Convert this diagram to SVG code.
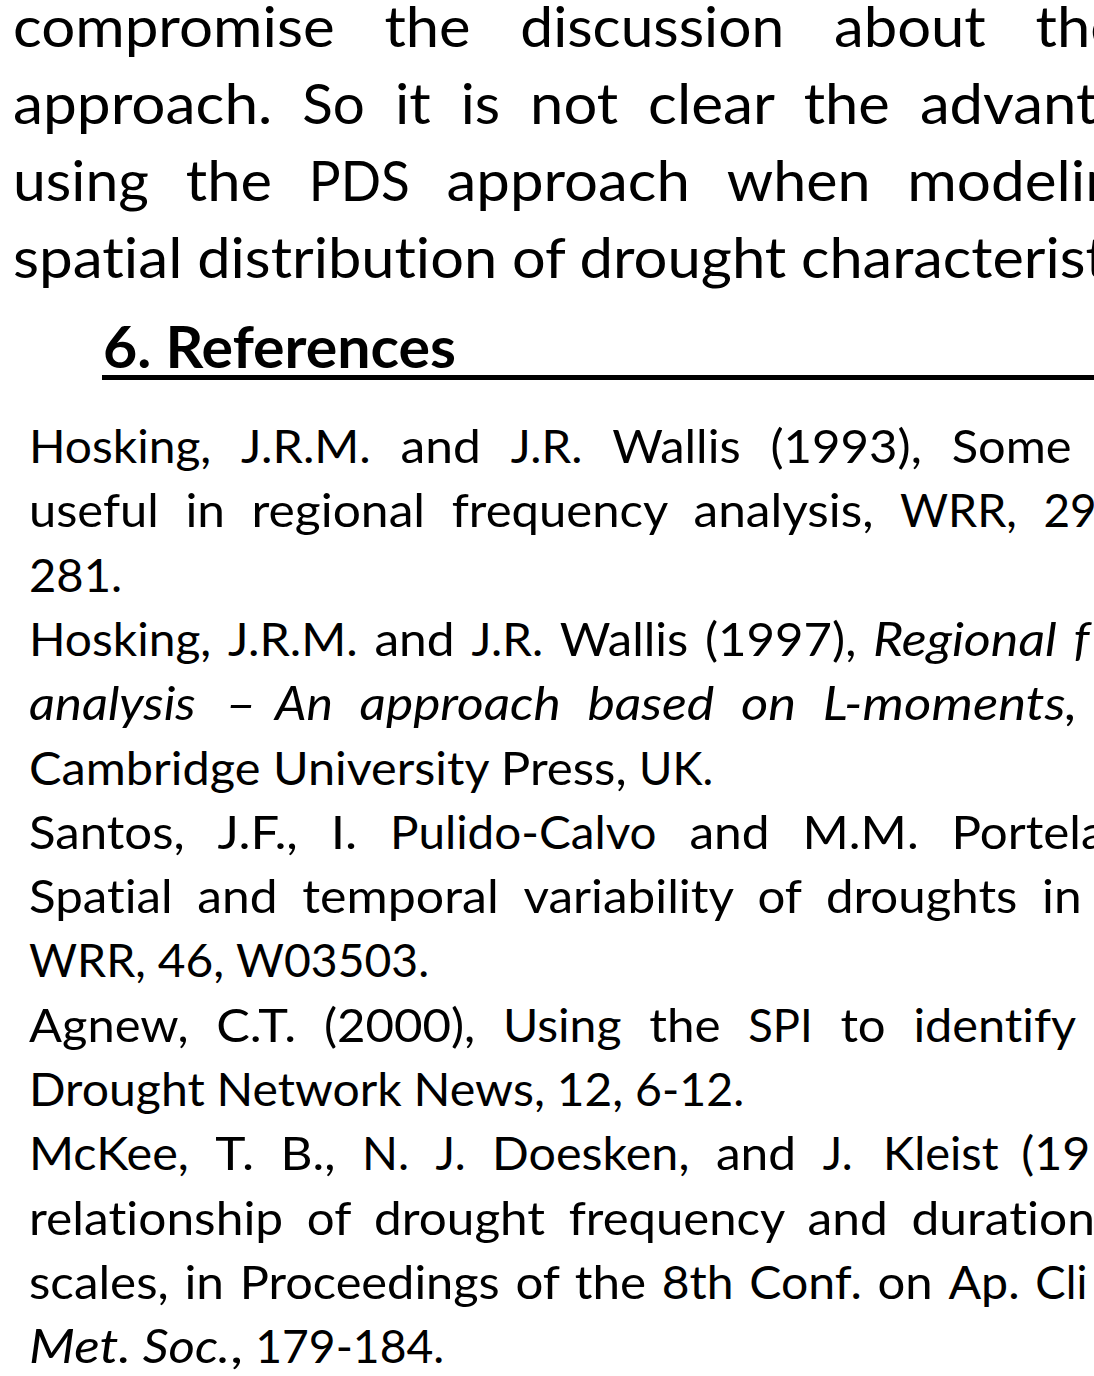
<svg xmlns="http://www.w3.org/2000/svg" width="1094" height="1376" viewBox="0 0 1094 1376">
  <style>
    text { font-family: Lato, "Open Sans", "Liberation Sans", sans-serif; fill: #000; font-variant-ligatures: none; font-feature-settings: "liga" 0, "clig" 0; }
    .body { font-size: 57px; }
    .ref { font-size: 47.3px; }
    .head { font-size: 56.7px; font-weight: bold; }
    .it { font-style: italic; }
  </style>
  <rect x="0" y="0" width="1094" height="1376" fill="#fff"/>

  <!-- closing paragraph of the previous section (justified) -->
  <g id="conclusion-text">
    <text class="body" y="47"><tspan x="13" textLength="321.7" lengthAdjust="spacingAndGlyphs">compromise</tspan> <tspan x="384.4" textLength="86.2" lengthAdjust="spacingAndGlyphs">the</tspan> <tspan x="520.3" textLength="263.9" lengthAdjust="spacingAndGlyphs">discussion</tspan> <tspan x="834" textLength="151.8" lengthAdjust="spacingAndGlyphs">about</tspan> <tspan x="1035.5" textLength="86.2" lengthAdjust="spacingAndGlyphs">the</tspan></text>
    <text class="body" y="124"><tspan x="13" textLength="259.3" lengthAdjust="spacingAndGlyphs">approach.</tspan> <tspan x="302.3" textLength="62.6" lengthAdjust="spacingAndGlyphs">So</tspan> <tspan x="394.9" textLength="35.8" lengthAdjust="spacingAndGlyphs">it</tspan> <tspan x="460.7" textLength="39.4" lengthAdjust="spacingAndGlyphs">is</tspan> <tspan x="530.1" textLength="88" lengthAdjust="spacingAndGlyphs">not</tspan> <tspan x="648.1" textLength="125.6" lengthAdjust="spacingAndGlyphs">clear</tspan> <tspan x="803.7" textLength="86.2" lengthAdjust="spacingAndGlyphs">the</tspan> <tspan x="919.9" textLength="177.5" lengthAdjust="spacingAndGlyphs">advant</tspan></text>
    <text class="body" y="201"><tspan x="13" textLength="136" lengthAdjust="spacingAndGlyphs">using</tspan> <tspan x="185.8" textLength="86.2" lengthAdjust="spacingAndGlyphs">the</tspan> <tspan x="308.8" textLength="101" lengthAdjust="spacingAndGlyphs">PDS</tspan> <tspan x="446.6" textLength="243.3" lengthAdjust="spacingAndGlyphs">approach</tspan> <tspan x="726.7" textLength="143.7" lengthAdjust="spacingAndGlyphs">when</tspan> <tspan x="907.2" textLength="211.6" lengthAdjust="spacingAndGlyphs">modelin</tspan></text>
    <text class="body" y="278"><tspan x="13" textLength="169.4" lengthAdjust="spacingAndGlyphs">spatial</tspan> <tspan x="197.2" textLength="300" lengthAdjust="spacingAndGlyphs">distribution</tspan> <tspan x="511.9" textLength="52.8" lengthAdjust="spacingAndGlyphs">of</tspan> <tspan x="579.5" textLength="206.8" lengthAdjust="spacingAndGlyphs">drought</tspan> <tspan x="801" textLength="305.8" lengthAdjust="spacingAndGlyphs">characterist</tspan></text>
  </g>

  <!-- section heading with full-width rule -->
  <g id="heading-references">
    <text class="head" x="103" y="368" textLength="353" lengthAdjust="spacingAndGlyphs">6. References</text>
    <rect x="102" y="375" width="992" height="5" fill="#000"/>
  </g>

  <!-- reference list -->
  <g id="references">
    <g id="ref-hosking-1993">
      <text class="ref" y="463"><tspan x="29" textLength="182.2" lengthAdjust="spacingAndGlyphs">Hosking,</tspan> <tspan x="241" textLength="129.8" lengthAdjust="spacingAndGlyphs">J.R.M.</tspan> <tspan x="400.6" textLength="80.3" lengthAdjust="spacingAndGlyphs">and</tspan> <tspan x="510.7" textLength="71.7" lengthAdjust="spacingAndGlyphs">J.R.</tspan> <tspan x="612.2" textLength="128.5" lengthAdjust="spacingAndGlyphs">Wallis</tspan> <tspan x="770.5" textLength="151.4" lengthAdjust="spacingAndGlyphs">(1993),</tspan> <tspan x="951.7" textLength="119.9" lengthAdjust="spacingAndGlyphs">Some</tspan></text>
      <text class="ref" y="527.3"><tspan x="29" textLength="129.8" lengthAdjust="spacingAndGlyphs">useful</tspan> <tspan x="185.4" textLength="39.6" lengthAdjust="spacingAndGlyphs">in</tspan> <tspan x="251.5" textLength="173.6" lengthAdjust="spacingAndGlyphs">regional</tspan> <tspan x="451.7" textLength="215.3" lengthAdjust="spacingAndGlyphs">frequency</tspan> <tspan x="693.5" textLength="179.9" lengthAdjust="spacingAndGlyphs">analysis,</tspan> <tspan x="900" textLength="116.9" lengthAdjust="spacingAndGlyphs">WRR,</tspan> <tspan x="1043.4" textLength="53.2" lengthAdjust="spacingAndGlyphs">29</tspan></text>
      <text class="ref" y="591.6"><tspan x="29" textLength="93.1" lengthAdjust="spacingAndGlyphs">281.</tspan></text>
    </g>
    <g id="ref-hosking-1997">
      <text class="ref" y="655.9"><tspan x="29" textLength="182.2" lengthAdjust="spacingAndGlyphs">Hosking,</tspan> <tspan x="227.9" textLength="129.8" lengthAdjust="spacingAndGlyphs">J.R.M.</tspan> <tspan x="374.4" textLength="80.3" lengthAdjust="spacingAndGlyphs">and</tspan> <tspan x="471.4" textLength="71.7" lengthAdjust="spacingAndGlyphs">J.R.</tspan> <tspan x="559.8" textLength="128.5" lengthAdjust="spacingAndGlyphs">Wallis</tspan> <tspan x="705" textLength="151.4" lengthAdjust="spacingAndGlyphs">(1997),</tspan> <tspan class="it" x="873" textLength="183.8" lengthAdjust="spacingAndGlyphs">Regional</tspan> <tspan class="it" x="1073.5" textLength="16" lengthAdjust="spacingAndGlyphs">f</tspan></text>
      <text class="ref it" y="720.2"><tspan x="29" textLength="166.7" lengthAdjust="spacingAndGlyphs">analysis</tspan> <tspan x="225" textLength="32" lengthAdjust="spacingAndGlyphs">–</tspan> <tspan x="275" textLength="58" lengthAdjust="spacingAndGlyphs">An</tspan> <tspan x="359.6" textLength="201.2" lengthAdjust="spacingAndGlyphs">approach</tspan> <tspan x="587.4" textLength="126.9" lengthAdjust="spacingAndGlyphs">based</tspan> <tspan x="741" textLength="55.2" lengthAdjust="spacingAndGlyphs">on</tspan> <tspan x="822.8" textLength="254.6" lengthAdjust="spacingAndGlyphs">L-moments,</tspan></text>
      <text class="ref" y="784.5"><tspan x="29" textLength="231.4" lengthAdjust="spacingAndGlyphs">Cambridge</tspan> <tspan x="272.9" textLength="215.4" lengthAdjust="spacingAndGlyphs">University</tspan> <tspan x="500.8" textLength="125.8" lengthAdjust="spacingAndGlyphs">Press,</tspan> <tspan x="639.1" textLength="74.2" lengthAdjust="spacingAndGlyphs">UK.</tspan></text>
    </g>
    <g id="ref-santos-2010">
      <text class="ref" y="848.8"><tspan x="29" textLength="155.7" lengthAdjust="spacingAndGlyphs">Santos,</tspan> <tspan x="217.5" textLength="80.4" lengthAdjust="spacingAndGlyphs">J.F.,</tspan> <tspan x="330.7" textLength="26.5" lengthAdjust="spacingAndGlyphs">I.</tspan> <tspan x="390" textLength="266.6" lengthAdjust="spacingAndGlyphs">Pulido-Calvo</tspan> <tspan x="689.4" textLength="80.3" lengthAdjust="spacingAndGlyphs">and</tspan> <tspan x="802.5" textLength="116.2" lengthAdjust="spacingAndGlyphs">M.M.</tspan> <tspan x="951.5" textLength="154" lengthAdjust="spacingAndGlyphs">Portela</tspan></text>
      <text class="ref" y="913.1"><tspan x="29" textLength="143.6" lengthAdjust="spacingAndGlyphs">Spatial</tspan> <tspan x="197.3" textLength="80.3" lengthAdjust="spacingAndGlyphs">and</tspan> <tspan x="302.3" textLength="196.4" lengthAdjust="spacingAndGlyphs">temporal</tspan> <tspan x="523.4" textLength="209.4" lengthAdjust="spacingAndGlyphs">variability</tspan> <tspan x="757.5" textLength="43.7" lengthAdjust="spacingAndGlyphs">of</tspan> <tspan x="825.9" textLength="191.5" lengthAdjust="spacingAndGlyphs">droughts</tspan> <tspan x="1042.1" textLength="39.6" lengthAdjust="spacingAndGlyphs">in</tspan></text>
      <text class="ref" y="977.4"><tspan x="29" textLength="116.9" lengthAdjust="spacingAndGlyphs">WRR,</tspan> <tspan x="157.8" textLength="66.4" lengthAdjust="spacingAndGlyphs">46,</tspan> <tspan x="236.1" textLength="193" lengthAdjust="spacingAndGlyphs">W03503.</tspan></text>
    </g>
    <g id="ref-agnew-2000">
      <text class="ref" y="1041.7"><tspan x="29" textLength="159.5" lengthAdjust="spacingAndGlyphs">Agnew,</tspan> <tspan x="216.2" textLength="80" lengthAdjust="spacingAndGlyphs">C.T.</tspan> <tspan x="323.9" textLength="151.4" lengthAdjust="spacingAndGlyphs">(2000),</tspan> <tspan x="503" textLength="118.5" lengthAdjust="spacingAndGlyphs">Using</tspan> <tspan x="649.2" textLength="71.3" lengthAdjust="spacingAndGlyphs">the</tspan> <tspan x="748.2" textLength="64.5" lengthAdjust="spacingAndGlyphs">SPI</tspan> <tspan x="840.4" textLength="45.3" lengthAdjust="spacingAndGlyphs">to</tspan> <tspan x="913.4" textLength="162.7" lengthAdjust="spacingAndGlyphs">identify</tspan></text>
      <text class="ref" y="1106"><tspan x="29" textLength="175.7" lengthAdjust="spacingAndGlyphs">Drought</tspan> <tspan x="216.6" textLength="185.1" lengthAdjust="spacingAndGlyphs">Network</tspan> <tspan x="413.6" textLength="131.3" lengthAdjust="spacingAndGlyphs">News,</tspan> <tspan x="556.8" textLength="66.4" lengthAdjust="spacingAndGlyphs">12,</tspan> <tspan x="635.1" textLength="109.1" lengthAdjust="spacingAndGlyphs">6-12.</tspan></text>
    </g>
    <g id="ref-mckee">
      <text class="ref" y="1170.3"><tspan x="29" textLength="159.8" lengthAdjust="spacingAndGlyphs">McKee,</tspan> <tspan x="215.3" textLength="38.8" lengthAdjust="spacingAndGlyphs">T.</tspan> <tspan x="280.6" textLength="54.9" lengthAdjust="spacingAndGlyphs">B.,</tspan> <tspan x="362" textLength="47.1" lengthAdjust="spacingAndGlyphs">N.</tspan> <tspan x="435.6" textLength="30" lengthAdjust="spacingAndGlyphs">J.</tspan> <tspan x="492.1" textLength="197.3" lengthAdjust="spacingAndGlyphs">Doesken,</tspan> <tspan x="715.9" textLength="80.3" lengthAdjust="spacingAndGlyphs">and</tspan> <tspan x="822.7" textLength="30" lengthAdjust="spacingAndGlyphs">J.</tspan> <tspan x="883" textLength="115.6" lengthAdjust="spacingAndGlyphs">Kleist</tspan> <tspan x="1021.3" textLength="69.1" lengthAdjust="spacingAndGlyphs">(19</tspan></text>
      <text class="ref" y="1234.6"><tspan x="29" textLength="254.2" lengthAdjust="spacingAndGlyphs">relationship</tspan> <tspan x="306.8" textLength="43.7" lengthAdjust="spacingAndGlyphs">of</tspan> <tspan x="374.1" textLength="171" lengthAdjust="spacingAndGlyphs">drought</tspan> <tspan x="568.7" textLength="215.3" lengthAdjust="spacingAndGlyphs">frequency</tspan> <tspan x="807.6" textLength="80.3" lengthAdjust="spacingAndGlyphs">and</tspan> <tspan x="911.5" textLength="183.4" lengthAdjust="spacingAndGlyphs">duration</tspan></text>
      <text class="ref" y="1298.9"><tspan x="29" textLength="139.7" lengthAdjust="spacingAndGlyphs">scales,</tspan> <tspan x="184.4" textLength="39.6" lengthAdjust="spacingAndGlyphs">in</tspan> <tspan x="239.7" textLength="260" lengthAdjust="spacingAndGlyphs">Proceedings</tspan> <tspan x="515.4" textLength="43.7" lengthAdjust="spacingAndGlyphs">of</tspan> <tspan x="574.8" textLength="71.3" lengthAdjust="spacingAndGlyphs">the</tspan> <tspan x="661.8" textLength="71.8" lengthAdjust="spacingAndGlyphs">8th</tspan> <tspan x="749.3" textLength="112.5" lengthAdjust="spacingAndGlyphs">Conf.</tspan> <tspan x="877.5" textLength="55.2" lengthAdjust="spacingAndGlyphs">on</tspan> <tspan x="948.4" textLength="71.2" lengthAdjust="spacingAndGlyphs">Ap.</tspan> <tspan x="1035.3" textLength="52" lengthAdjust="spacingAndGlyphs">Cli</tspan></text>
      <text class="ref" y="1363.2"><tspan class="it" x="29" textLength="101.9" lengthAdjust="spacingAndGlyphs">Met.</tspan> <tspan class="it" x="142.8" textLength="87.2" lengthAdjust="spacingAndGlyphs">Soc.</tspan><tspan x="230" textLength="13.1" lengthAdjust="spacingAndGlyphs">,</tspan> <tspan x="255.2" textLength="189" lengthAdjust="spacingAndGlyphs">179-184.</tspan></text>
    </g>
  </g>
</svg>
